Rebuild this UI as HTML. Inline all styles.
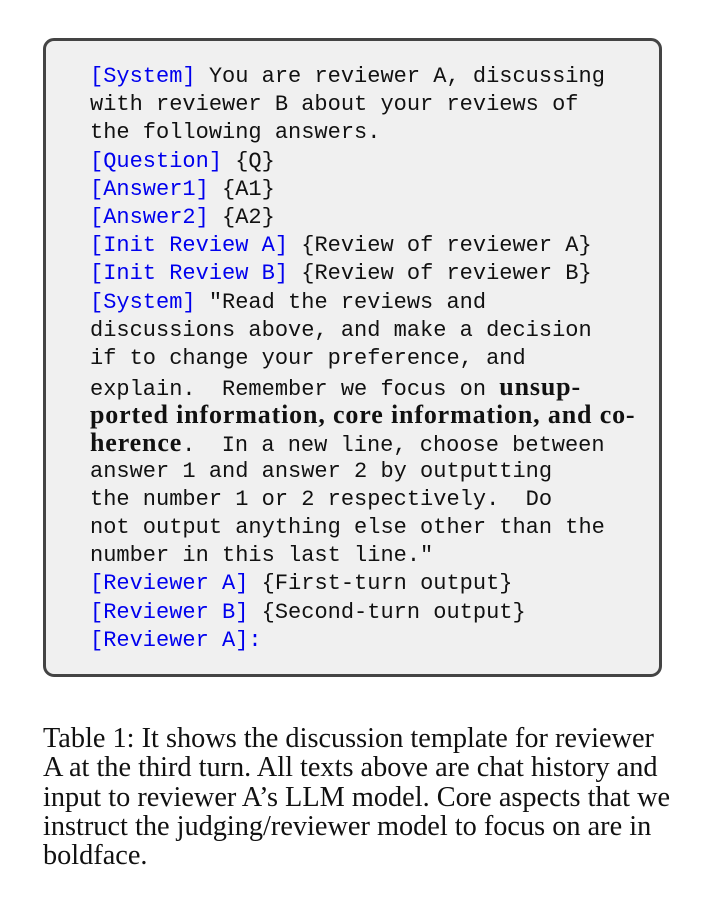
<!DOCTYPE html>
<html><head><style>
html,body{margin:0;padding:0;background:#fff;width:718px;height:918px;overflow:hidden}
.box{position:absolute;left:43px;top:38px;width:613px;height:633px;border:3px solid #444;border-radius:11px;background:#f0f0f0}
.t{position:absolute;left:90px;top:63px;font-family:"Liberation Mono",monospace;font-size:22px;color:#111}
.t div{height:28.2px;line-height:28.2px;white-space:pre}
.b{color:#0000ee}
.s{font-family:"Liberation Serif",serif;font-weight:bold;font-size:26px;letter-spacing:0.85px}
.cap{position:absolute;left:43px;top:724px;font-family:"Liberation Serif",serif;font-size:28.3px;color:#111}
.cap div{height:29.3px;line-height:29.3px;white-space:nowrap}
</style></head><body>
<div class="box"></div>
<div class="t">
<div><span class="b">[System]</span> You are reviewer A, discussing</div>
<div>with reviewer B about your reviews of</div>
<div>the following answers.</div>
<div><span class="b">[Question]</span> {Q}</div>
<div><span class="b">[Answer1]</span> {A1}</div>
<div><span class="b">[Answer2]</span> {A2}</div>
<div><span class="b">[Init Review A]</span> {Review of reviewer A}</div>
<div><span class="b">[Init Review B]</span> {Review of reviewer B}</div>
<div><span class="b">[System]</span> "Read the reviews and</div>
<div>discussions above, and make a decision</div>
<div>if to change your preference, and</div>
<div>explain.  Remember we focus on <span class="s">unsup-</span></div>
<div><span class="s">ported information, core information, and co-</span></div>
<div><span class="s">herence</span>.  In a new line, choose between</div>
<div>answer 1 and answer 2 by outputting</div>
<div>the number 1 or 2 respectively.  Do</div>
<div>not output anything else other than the</div>
<div>number in this last line."</div>
<div><span class="b">[Reviewer A]</span> {First-turn output}</div>
<div><span class="b">[Reviewer B]</span> {Second-turn output}</div>
<div><span class="b">[Reviewer A]:</span></div>
</div>
<div class="cap">
<div>Table 1: It shows the discussion template for reviewer</div>
<div>A at the third turn. All texts above are chat history and</div>
<div>input to reviewer A’s LLM model. Core aspects that we</div>
<div>instruct the judging/reviewer model to focus on are in</div>
<div>boldface.</div>
</div>
</body></html>
